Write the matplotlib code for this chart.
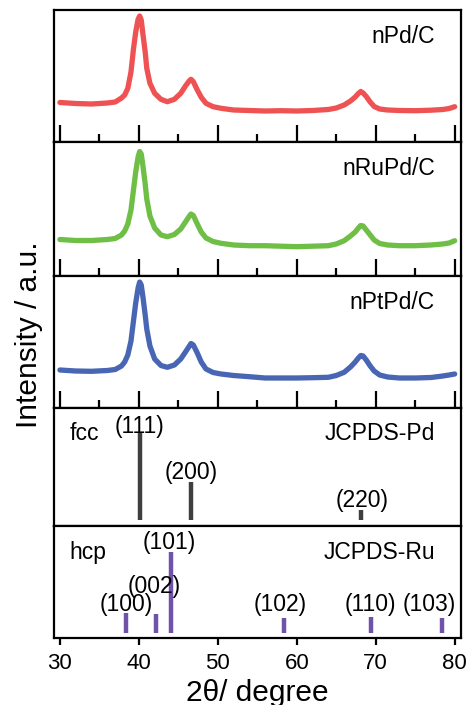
import matplotlib
matplotlib.use("Agg")
import matplotlib.pyplot as plt
from matplotlib.ticker import MultipleLocator

plt.rcParams["font.family"] = ["Liberation Sans", "DejaVu Sans"]

# 2theta grid (degree)
two_theta = [30, 32, 34, 36, 37, 37.8, 38.2, 38.6, 39.0, 39.3, 39.6, 39.9, 40.1,
             40.3, 40.5, 40.8, 41.0, 41.4, 42.0, 42.8, 43.6, 44.5, 45.3, 45.9,
             46.4, 46.6, 46.9, 47.4, 47.9, 48.5, 49.4, 50.4, 52, 54, 56, 58, 60,
             62, 64, 65, 66, 66.8, 67.4, 67.8, 68.1, 68.4, 68.8, 69.3, 69.8,
             70.5, 71.5, 73, 75, 77, 78.5, 79.3, 80]

# intensities (a.u.)
pd_c = [39.5, 38.5, 38, 39, 40, 44, 47, 53.7, 70, 92, 110, 122.7, 126,
        122, 108.7, 90, 73.7, 58.7, 48.7, 42.7, 40.3, 42.7, 48.7, 56,
        61.3, 62.7, 60.3, 52, 44.7, 38.7, 35.3, 33.7, 32, 31.5, 31, 31.3, 31,
        31.5, 32.5, 34, 37, 41, 45, 48.5, 50.5, 49, 45.5, 40, 35.5,
        33, 32, 31.5, 31.3, 31.8, 32.5, 33.5, 35.3]
rupd_c = [36.5, 35.5, 35.5, 36.5, 37.5, 41, 45, 52, 66, 85, 104, 119, 124.5,
          122, 111, 92, 77, 60, 48, 41, 39.3, 41.5, 47, 54,
          60, 62, 60.5, 52, 44, 38, 34.5, 32.7, 31, 30.3, 30.3, 29.8, 29.3,
          29.8, 30.3, 32, 35.3, 40, 44, 48, 50.5, 50, 46, 41, 36,
          32.5, 31, 30.3, 30.3, 31, 32, 33, 35.3]
ptpd_c = [38, 37, 36.7, 37.5, 38.5, 42, 46, 53, 67, 86, 105, 120, 126,
          123, 112, 93, 79, 62, 49, 42.5, 40.7, 43, 49, 56,
          62, 64.5, 63, 55, 46, 39, 35.5, 34, 32.5, 31.3, 30, 30, 30,
          30.3, 30.7, 32.5, 35.7, 41, 46, 50, 52.5, 52, 48, 42, 37,
          33, 31, 30, 30, 30.5, 32, 33, 34]

samples = ["nPd/C", "nRuPd/C", "nPtPd/C"]
sample_colors = ["#ef5252", "#6fbe45", "#4866b4"]

# reference patterns
pd_pos = [40.12, 46.66, 68.12]
pd_int = [100, 43, 12]
pd_hkl = ["(111)", "(200)", "(220)"]

ru_pos = [38.39, 42.15, 44.01, 58.33, 69.41, 78.39]
ru_int = [25, 23, 100, 19, 20, 19]
ru_hkl = ["(100)", "(002)", "(101)", "(102)", "(110)", "(103)"]

# label offsets in points (dx, dy) from the stick top
pd_off = [(0, 4.5), (0, 7), (1, 6.5)]
ru_off = [(0, 6), (-1.5, 20), (-1, 6.5), (-2.5, 9.5), (-0.5, 9), (-9, 9.5)]

W, H = 470, 705
fig = plt.figure(figsize=(W / 100, H / 100), dpi=100)

left, right = 54 / W, 461 / W
edges = [10, 142, 276, 408, 526, 638]  # panel edges, px from top
axes = []
for i in range(5):
    b = 1 - edges[i + 1] / H
    h = (edges[i + 1] - edges[i]) / H
    ax = fig.add_axes([left, b, right - left, h])
    for s in ax.spines.values():
        s.set_linewidth(1.6)
    ax.set_xlim(29.25, 80.8)
    ax.set_yticks([])
    ax.xaxis.set_major_locator(MultipleLocator(10))
    axes.append(ax)

txt = 16.5

spectra = [pd_c, rupd_c, ptpd_c]
ylims = [(0, 132), (0, 134), (0, 132)]
for ax, y, name, c, yl in zip(axes[:3], spectra, samples, sample_colors, ylims):
    ax.plot(two_theta, y, color=c, lw=3.8, solid_capstyle="round")
    ax.set_ylim(*yl)
    ax.xaxis.set_minor_locator(MultipleLocator(5))
    ax.tick_params(axis="x", which="major", direction="in", length=12, width=1.6,
                   labelbottom=False)
    ax.tick_params(axis="x", which="minor", direction="in", length=5.5, width=1.6)
    ax.text(0.936, 0.80, name, transform=ax.transAxes, ha="right", va="center",
            fontsize=txt)

# JCPDS-Pd
ax = axes[3]
ax.vlines(pd_pos, 0, pd_int, color="#3f3f3f", lw=3.2)
ax.set_ylim(-6.9, 128.3)
ax.tick_params(axis="x", bottom=False, labelbottom=False)
for p, v, t, (dx, dy) in zip(pd_pos, pd_int, pd_hkl, pd_off):
    ax.annotate(t, (p, v), xytext=(dx, dy), textcoords="offset points",
                ha="center", va="center", fontsize=txt)
ax.text(0.039, 0.788, "fcc", transform=ax.transAxes, ha="left", va="center", fontsize=txt)
ax.text(0.936, 0.788, "JCPDS-Pd", transform=ax.transAxes, ha="right", va="center",
        fontsize=txt)

# JCPDS-Ru
ax = axes[4]
ax.vlines(ru_pos, 0, ru_int, color="#7152aa", lw=3.2)
ax.set_ylim(-6.2, 132.1)
for p, v, t, (dx, dy) in zip(ru_pos, ru_int, ru_hkl, ru_off):
    ax.annotate(t, (p, v), xytext=(dx, dy), textcoords="offset points",
                ha="center", va="center", fontsize=txt)
ax.text(0.039, 0.759, "hcp", transform=ax.transAxes, ha="left", va="center", fontsize=txt)
ax.text(0.936, 0.759, "JCPDS-Ru", transform=ax.transAxes, ha="right", va="center",
        fontsize=txt)
ax.tick_params(axis="x", which="major", direction="out", length=5, width=1.6,
               labelsize=16, pad=6)

fig.text(257.5 / W, 1 - 701 / H, "2θ/ degree", ha="center", va="baseline",
         fontsize=21.5)
fig.text(29 / W, 1 - 335 / H, "Intensity / a.u.", rotation=90, ha="center",
         va="center", fontsize=21.5)

fig.savefig("out.png", dpi=100)
